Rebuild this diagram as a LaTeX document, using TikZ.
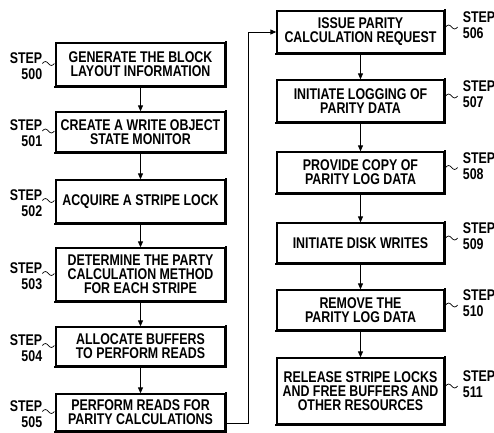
\documentclass[tikz,border=0pt]{standalone}
\usepackage{fontspec}
\setmainfont{Liberation Sans}[FakeStretch=0.8]
\usetikzlibrary{arrows.meta,calc}
\newcommand\mysqL[1]{\draw[sqline] ($(#1.west)+(-13,-1)$) sin ++(3,-2) cos ++(3,2) sin ++(3,2) cos ++(3,-2);}
\newcommand\mysqR[1]{\draw[sqline] ($(#1.east)+(1,-5)$) sin ++(3,-2) cos ++(3,2) sin ++(3,2) cos ++(3,-2);}
\begin{document}
\begin{tikzpicture}[x=1pt,y=-1pt,
  txt/.style={font={\bfseries\fontsize{15.5pt}{14pt}\selectfont}},
  stepbox/.style={txt,draw,line width=1.3pt,inner sep=0pt,align=center},
  lbox/.style={stepbox,minimum width=169pt},
  rbox/.style={stepbox,minimum width=167pt},
  lab/.style={txt,inner sep=0pt},
  flow/.style={line width=0.9pt,-{Triangle[length=6pt,width=5pt]}},
  sqline/.style={line width=0.7pt},
  shadowedge/.style={line width=2.2pt,line cap=rect}]
\useasboundingbox (0,0) rectangle (494,432);
% left column
\node[lbox,minimum height=43pt] (b500) at (140.5,64.5) {GENERATE THE BLOCK\\LAYOUT INFORMATION};
\node[lbox,minimum height=40pt] (b501) at (140.5,132) {CREATE A WRITE OBJECT\\STATE MONITOR};
\node[lbox,minimum height=43pt] (b502) at (140.5,201.5) {ACQUIRE A STRIPE LOCK};
\node[lbox,minimum height=53pt] (b503) at (140.5,274.5) {DETERMINE THE PARTY\\CALCULATION METHOD\\FOR EACH STRIPE};
\node[lbox,minimum height=39pt] (b504) at (140.5,346.5) {ALLOCATE BUFFERS\\TO PERFORM READS};
\node[lbox,minimum height=37pt] (b505) at (140.5,412.5) {PERFORM READS FOR\\PARITY CALCULATIONS};
% right column
\node[rbox,minimum height=42pt] (b506) at (360.5,32) {ISSUE PARITY\\CALCULATION REQUEST};
\node[rbox,minimum height=42pt] (b507) at (360.5,101) {INITIATE LOGGING OF\\PARITY DATA};
\node[rbox,minimum height=41pt] (b508) at (360.5,172.5) {PROVIDE COPY OF\\PARITY LOG DATA};
\node[rbox,minimum height=40pt] (b509) at (360.5,243) {INITIATE DISK WRITES};
\node[rbox,minimum height=40pt] (b510) at (360.5,310) {REMOVE THE\\PARITY LOG DATA};
\node[rbox,minimum height=66pt] (b511) at (360.5,391) {RELEASE STRIPE LOCKS\\AND FREE BUFFERS AND\\OTHER RESOURCES};
% heavier right/bottom edges
\foreach \b in {b500,b501,b502,b503,b504,b505,b506,b507,b508,b509,b510,b511}
  \draw[shadowedge] (\b.north east) -- (\b.south east) -- (\b.south west);
% flow arrows
\draw[flow] (b500) -- (b501);
\draw[flow] (b501) -- (b502);
\draw[flow] (b502) -- (b503);
\draw[flow] (b503) -- (b504);
\draw[flow] (b504) -- (b505);
\draw[flow] ([yshift=-10.5pt]b505.east) -- ++(23,0) |- (b506.west);
\draw[flow] (b506) -- (b507);
\draw[flow] (b507) -- (b508);
\draw[flow] (b508) -- (b509);
\draw[flow] (b509) -- (b510);
\draw[flow] (b510) -- (b511);
% left labels
\foreach \b/\n in {b500/500,b501/501,b502/502,b503/503,b504/504,b505/505}{
  \node[lab,anchor=east] (s\n) at ($(\b.west)+(-13,-6.5)$) {STEP};
  \node[lab,anchor=east] (n\n) at ($(\b.west)+(-13,9.5)$) {\n};
  \mysqL{\b}
}
% right labels
\foreach \b/\n in {b506/506,b507/507,b508/508,b509/509,b510/510,b511/511}{
  \node[lab,anchor=west] (s\n) at ($(\b.east)+(18,-14.5)$) {STEP};
  \node[lab,anchor=west] (n\n) at ($(\b.east)+(18,1.5)$) {\n};
  \mysqR{\b}
}
\end{tikzpicture}
\end{document}
